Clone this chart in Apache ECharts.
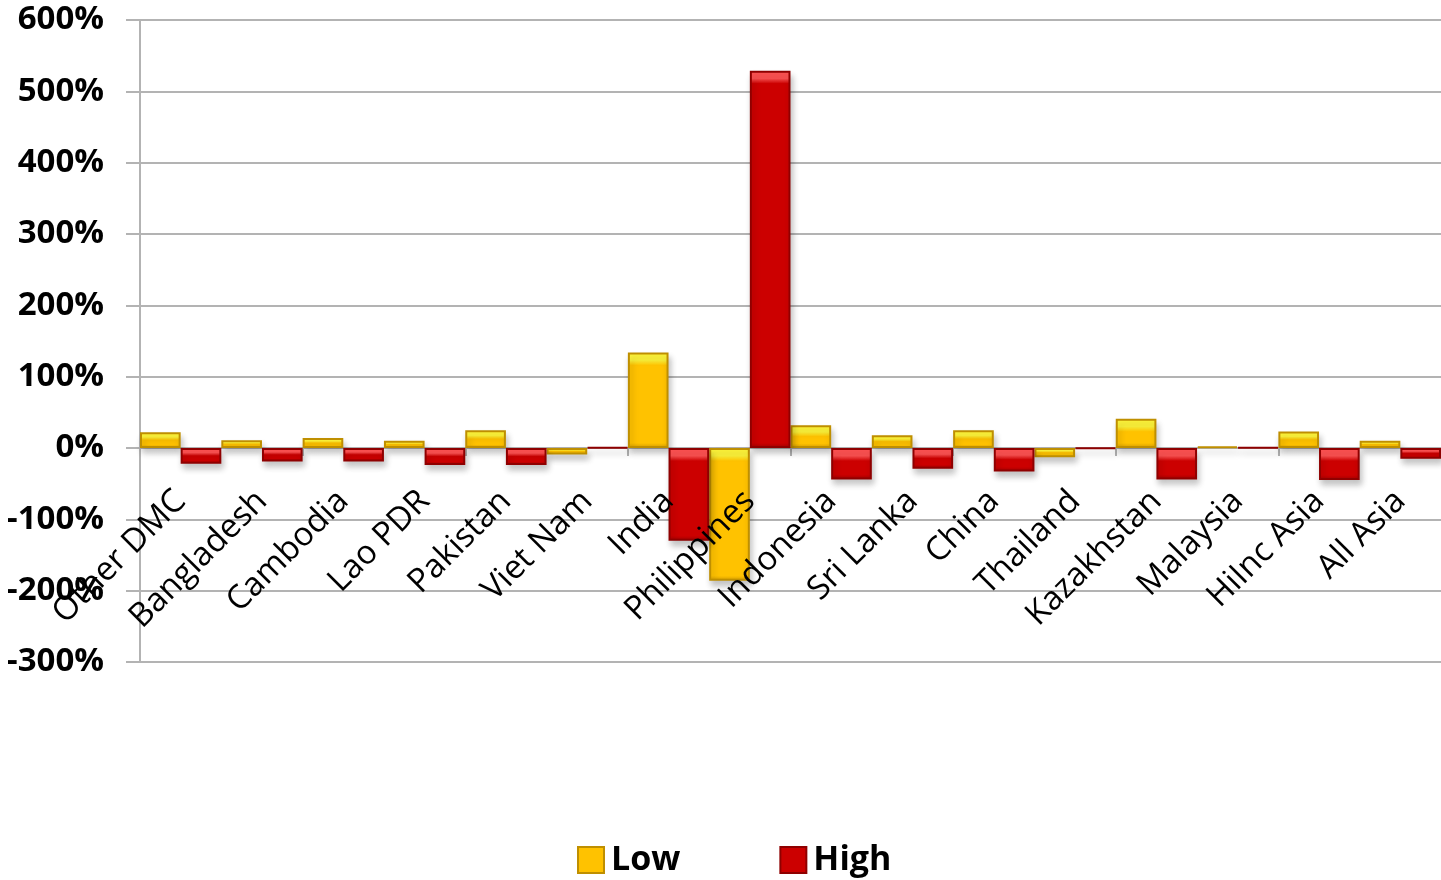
<!DOCTYPE html>
<html>
<head>
<meta charset="utf-8">
<script src="https://cdn.jsdelivr.net/npm/echarts@6/dist/echarts.min.js"></script>
<style>
  html, body { margin: 0; padding: 0; background: #ffffff; }
  #chart { width: 1441px; height: 880px; }
</style>
</head>
<body>
<div id="chart"></div>
<script>
// Change in poverty headcount (%) by economy, low vs high scenario
const categories = ['Other DMC', 'Bangladesh', 'Cambodia', 'Lao PDR', 'Pakistan', 'Viet Nam',
  'India', 'Philippines', 'Indonesia', 'Sri Lanka', 'China', 'Thailand',
  'Kazakhstan', 'Malaysia', 'HiInc Asia', 'All Asia'];
const lowValues  = [22, 11, 14, 10, 25, -9, 134, -186, 32, 18, 25, -13, 41, 2, 23, 10];
const highValues = [-22, -19, -19, -24, -24, 1, -130, 529, -44, -29, -33, -1, -44, 1, -45, -15];
const yTicks = { min: -300, max: 600, interval: 100 };

const FONT = '"Open Sans", "Liberation Sans", sans-serif';

// plot geometry
const GRID = { left: 140, right: 0, top: 20, bottom: 218 };
const PLOT_H = 880 - GRID.top - GRID.bottom;
const PX_PER_UNIT = PLOT_H / (yTicks.max - yTicks.min);

const palettes = {
  Low:  { light: '#fff53a', base: '#ffc200', dark: '#d69e00', border: '#bf8f00' },
  High: { light: '#ff5252', base: '#cc0000', dark: '#a30000', border: '#8f0000' }
};

// bevelled bar fill: a light strip of fixed pixel height at the top of each bar
function bevelFill(v, p) {
  const h = Math.max(1, Math.abs(v) * PX_PER_UNIT);
  const t = Math.min(0.5, 13 / h);
  const b = Math.max(t, 1 - Math.min(0.2, 5 / h));
  return {
    type: 'linear', x: 0, y: 0, x2: 0, y2: 1,
    colorStops: [
      { offset: 0, color: p.light },
      { offset: t * 0.6, color: p.light },
      { offset: t, color: p.base },
      { offset: b, color: p.base },
      { offset: 1, color: p.dark }
    ]
  };
}

function barData(values, p) {
  return values.map(v => ({ value: v, itemStyle: { color: bevelFill(v, p) } }));
}

function barSeries(name, values) {
  const p = palettes[name];
  return {
    name, type: 'bar', data: barData(values, p),
    xAxisIndex: 0,
    barGap: '0%', barCategoryGap: '0%',
    color: p.base,
    itemStyle: {
      color: p.base,
      borderColor: p.border, borderWidth: 2,
      shadowColor: 'rgba(0,0,0,0.22)', shadowBlur: 6, shadowOffsetX: 2, shadowOffsetY: 5
    }
  };
}

const chart = echarts.init(document.getElementById('chart'), null, { renderer: 'canvas' });

chart.setOption({
  animation: false,
  backgroundColor: '#ffffff',
  grid: Object.assign({ containLabel: false }, GRID),
  legend: {
    left: 572, top: 838,
    itemWidth: 26, itemHeight: 26, itemGap: 99,
    icon: 'rect',
    itemStyle: { borderWidth: 2 },
    textStyle: { fontFamily: FONT, fontSize: 34, fontWeight: 'bold', color: '#000', padding: [0, 0, 0, 2] },
    data: ['Low', 'High']
  },
  xAxis: [
    {
      // zero line and category ticks, behind the bars
      type: 'category',
      data: categories,
      axisLine: { onZero: true, lineStyle: { color: '#b3b3b3', width: 2 } },
      axisTick: { show: true, length: 8, lineStyle: { color: '#b3b3b3', width: 2 } },
      axisLabel: { show: false },
      splitLine: { show: false }
    },
    {
      // category names, drawn above the bars
      type: 'category',
      data: categories,
      position: 'bottom',
      z: 10,
      axisLine: { show: false },
      axisTick: { show: false },
      axisLabel: {
        interval: 0, rotate: 45, margin: -166,
        fontFamily: FONT, fontSize: 33, color: '#000'
      },
      splitLine: { show: false }
    }
  ],
  yAxis: {
    type: 'value',
    min: yTicks.min, max: yTicks.max, interval: yTicks.interval,
    axisLine: { show: true, lineStyle: { color: '#b3b3b3', width: 2 } },
    axisTick: { show: true, length: 14, lineStyle: { color: '#b3b3b3', width: 2 } },
    axisLabel: {
      formatter: '{value}%', margin: 36,
      fontFamily: FONT, fontSize: 33, fontWeight: 'bold', color: '#000'
    },
    splitLine: { show: true, lineStyle: { color: '#b3b3b3', width: 2 } }
  },
  series: [
    barSeries('Low', lowValues),
    barSeries('High', highValues)
  ]
});
</script>
</body>
</html>
